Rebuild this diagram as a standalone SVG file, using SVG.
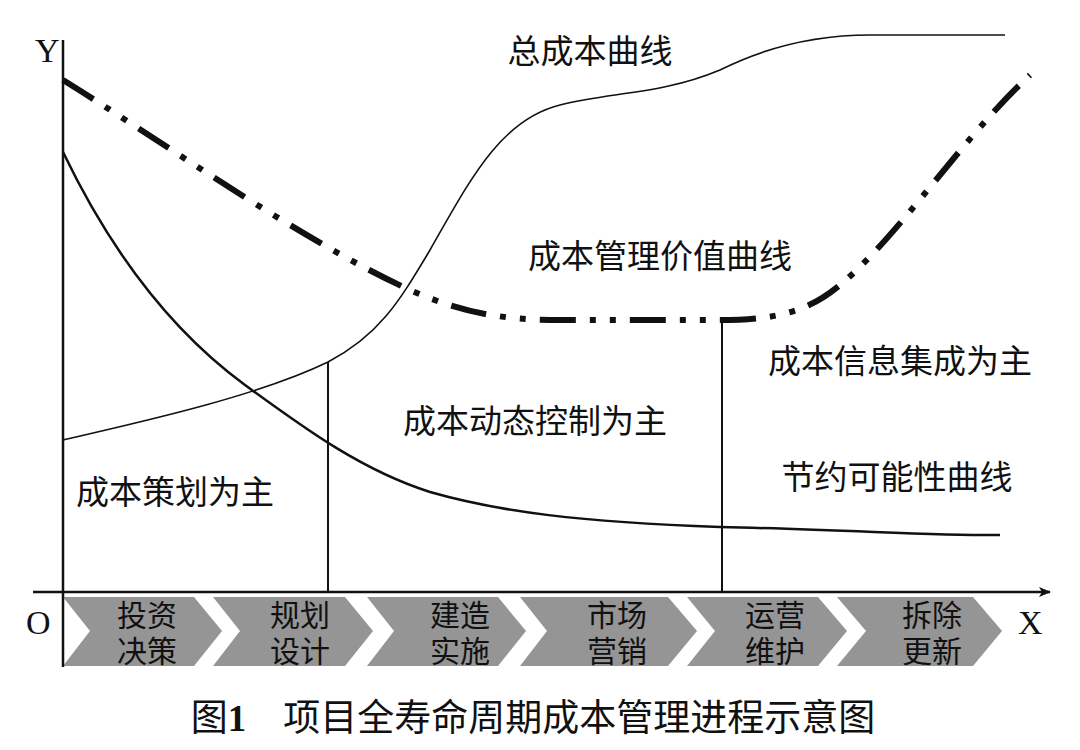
<svg xmlns="http://www.w3.org/2000/svg" width="1080" height="750" viewBox="0 0 1080 750">
<style>
.t{font-family:"Noto Sans CJK SC","Noto Sans",sans-serif;font-size:33px;fill:#111;text-anchor:middle}
.s{font-family:"Noto Sans CJK SC",sans-serif;font-size:30px;fill:#111;text-anchor:middle}
.l{font-family:"Liberation Serif",serif;font-size:34px;fill:#111}
.c{fill:none;stroke:#111}
.ch{fill:#959595}
</style>
<defs><marker id="a" markerWidth="12" markerHeight="10" refX="11" refY="5" orient="auto" markerUnits="userSpaceOnUse"><path d="M0,0 L12,5 L0,10 L3,5 Z" fill="#111"/></marker></defs>
<rect width="1080" height="750" fill="#fff"/>
<g id="phases">
<path class="ch" d="M63,597 L194,597 L222,631 L194,666 L63,666 L90,631 Z"/>
<path class="ch" d="M213,597 L345,597 L373,631 L345,666 L213,666 L240,631 Z"/>
<path class="ch" d="M367,597 L498,597 L526,631 L498,666 L367,666 L394,631 Z"/>
<path class="ch" d="M520,597 L668,597 L697,631 L668,666 L520,666 L547,631 Z"/>
<path class="ch" d="M687,597 L818,597 L847,631 L818,666 L687,666 L715,631 Z"/>
<path class="ch" d="M837,597 L973,597 L1002,631 L973,666 L837,666 L866,631 Z"/>
<text class="s" x="147" y="626">投资</text><text class="s" x="147" y="662">决策</text>
<text class="s" x="300" y="626">规划</text><text class="s" x="300" y="662">设计</text>
<text class="s" x="460" y="626">建造</text><text class="s" x="460" y="662">实施</text>
<text class="s" x="617" y="626">市场</text><text class="s" x="617" y="662">营销</text>
<text class="s" x="775" y="626">运营</text><text class="s" x="775" y="662">维护</text>
<text class="s" x="932" y="626">拆除</text><text class="s" x="932" y="662">更新</text>
</g>
<g id="connectors">
<line class="c" stroke-width="2.5" x1="63" y1="667" x2="63" y2="40"/>
<line class="c" stroke-width="2.5" x1="33" y1="592" x2="1050" y2="592" marker-end="url(#a)"/>
<line class="c" stroke-width="2" x1="328" y1="362" x2="328" y2="592"/>
<line class="c" stroke-width="2" x1="722" y1="320" x2="722" y2="592"/>
<path id="total" class="c" stroke-width="1.6" d="M63,440 C150,420 260,395 328,362 C380,335 400,300 430,250 C470,180 500,120 560,105 C610,92 660,95 720,70 C770,45 820,35 870,35 L1005,35"/>
<path id="value" class="c" stroke-width="6" stroke-dasharray="36,14,6,14,6,14" d="M63,80 C160,140 300,240 410,290 C460,312 500,320 560,320 L720,320 C780,320 810,310 840,285 C900,235 960,140 1030,75"/>
<path id="saving" class="c" stroke-width="2.5" d="M63,152 C110,250 170,330 245,385 C300,425 360,470 430,492 C500,512 580,522 720,527 C850,530 950,536 1000,535"/>
</g>
<g id="labels">
<text class="l" x="35" y="62">Y</text>
<text class="l" x="26" y="634">O</text>
<text class="l" x="1018" y="634">X</text>
<text class="t" x="590" y="63">总成本曲线</text>
<text class="t" x="660" y="268">成本管理价值曲线</text>
<text class="t" x="900" y="373">成本信息集成为主</text>
<text class="t" x="535" y="433">成本动态控制为主</text>
<text class="t" x="897" y="489">节约可能性曲线</text>
<text class="t" x="175" y="504">成本策划为主</text>
<text class="t" x="533" y="731" style="font-size:37px">图<tspan font-family="Liberation Serif" font-weight="bold">1</tspan>　项目全寿命周期成本管理进程示意图</text>
</g>
</svg>
